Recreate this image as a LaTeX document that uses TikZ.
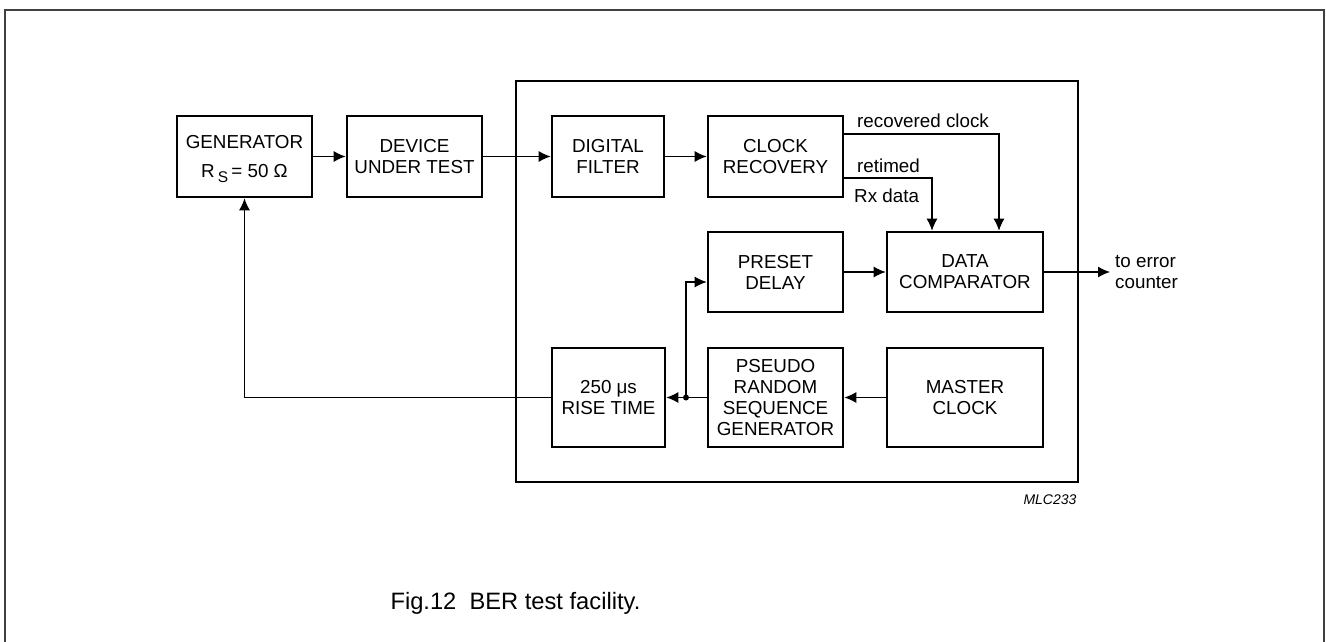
\documentclass[tikz,border=0pt]{standalone}
\usepackage{fontspec}
\setmainfont{Liberation Sans}
\usetikzlibrary{arrows.meta}
\newcommand{\blockfont}{\fontsize{18.8}{21}\selectfont}
\tikzset{block/.style = {draw, line width=2.6pt, align=center, inner sep=0pt,
                         font=\blockfont}}
\tikzset{sig/.style = {line width=1.2pt, -{Latex[length=12pt, width=11pt]}}}
\tikzset{lbl/.style = {font=\blockfont, inner sep=0pt}}

\begin{document}
\begin{tikzpicture}[x=1pt, y=-1pt]
      \useasboundingbox (0, 0) rectangle (1326, 642);
      \draw [line width=2pt, black!75] (5, 660) -- (5, 10) -- (1324, 10) -- (1324, 660);
      \draw [line width=2.6pt] (516, 81) rectangle (1078, 482);
      \node [block, minimum width=135, minimum height=81] (gen) at (244.5, 156.5)
            {GENERATOR\\[8pt]R\,\smash{\raisebox{-5pt}{\fontsize{15.5}{15}\selectfont S}}\,= 50 Ω};
      \node [block, minimum width=135, minimum height=81] (dut) at (414.5, 156.5) {DEVICE\\UNDER TEST};
      \node [block, minimum width=112, minimum height=81] (filter) at (608, 156.5) {DIGITAL\\FILTER};
      \node [block, minimum width=135, minimum height=81] (clkrec) at (775.5, 156.5) {CLOCK\\RECOVERY};
      \node [block, minimum width=135, minimum height=80] (delay) at (775.5, 272) {PRESET\\DELAY};
      \node [block, minimum width=156, minimum height=80] (comp) at (965, 272) {DATA\\COMPARATOR};
      \node [block, minimum width=113, minimum height=99] (rise) at (608.5, 397.5) {250 μs\\RISE TIME};
      \node [block, minimum width=135, minimum height=99] (prbs) at (775.5, 397.5)
            {PSEUDO\\RANDOM\\SEQUENCE\\GENERATOR};
      \node [block, minimum width=156, minimum height=99] (master) at (965, 397.5) {MASTER\\CLOCK};
      \draw [sig] (gen) -- (dut);
      \draw [sig] (dut) -- (filter);
      \draw [sig] (filter) -- (clkrec);
      \coordinate (rc) at (999, 134);
      \coordinate (rt) at (932, 178);
      \draw [sig] (clkrec.east |- rc) -- (rc) -- (rc |- comp.north);
      \draw [sig] (clkrec.east |- rt) -- (rt) -- (rt |- comp.north);
      \node [lbl, anchor=base west] (rclbl) at (857, 128) {recovered clock};
      \node [lbl, anchor=base west] (rtlbl) at (857, 172) {retimed};
      \node [lbl, anchor=base west] (rxlbl) at (854, 202) {Rx data};
      \draw [sig] (delay) -- (comp);
      \coordinate (err) at (1110, 272);
      \draw [sig] (comp.east) -- (err);
      \node [lbl, anchor=west, align=left, inner sep=5pt] (errlbl) at (err) {to error\\counter};
      \draw [sig] (master) -- (prbs);
      \draw [sig] (prbs) -- (rise);
      \coordinate (jn) at (686, 397.5);
      \coordinate (dl) at (686, 282);
      \fill (jn) circle (3);
      \draw [sig] (jn) -- (dl) -- (dl -| delay.west);
      \coordinate (fb) at (gen.south |- rise.west);
      \draw [sig] (rise.west) -- (fb) -- (gen.south);
      \node [font=\fontsize{14}{16}\selectfont\itshape] (code) at (1050, 500) {MLC233};
      \node [anchor=base west, font=\fontsize{23.7}{28}\selectfont] (caption) at (387, 609)
            {Fig.12\ \ BER test facility.};
    \end{tikzpicture}
\end{document}
